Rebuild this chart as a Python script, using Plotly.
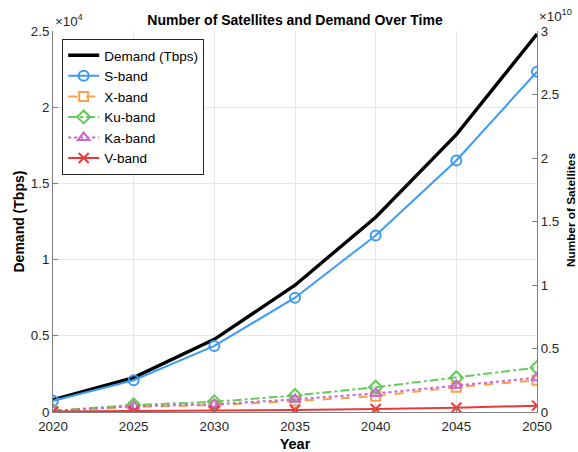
import plotly.graph_objects as go

years = [2020, 2025, 2030, 2035, 2040, 2045, 2050]

# Demand in Tbps (left axis)
demand_tbps = [800, 2260, 4770, 8320, 12780, 18200, 24800]

# Number of satellites per band (right axis)
s_band = [0.088e10, 0.25e10, 0.52e10, 0.90e10, 1.39e10, 1.98e10, 2.68e10]
x_band = [0.008e10, 0.04e10, 0.055e10, 0.086e10, 0.125e10, 0.195e10, 0.25e10]
ku_band = [0.01e10, 0.055e10, 0.08e10, 0.13e10, 0.195e10, 0.27e10, 0.35e10]
ka_band = [0.01e10, 0.045e10, 0.06e10, 0.10e10, 0.146e10, 0.21e10, 0.27e10]
v_band = [0.003e10, 0.006e10, 0.01e10, 0.016e10, 0.024e10, 0.034e10, 0.05e10]

left_tickvals = [0, 5000, 10000, 15000, 20000, 25000]
left_ticktext = ["0", "0.5", "1", "1.5", "2", "2.5"]
right_tickvals = [0, 0.5e10, 1e10, 1.5e10, 2e10, 2.5e10, 3e10]
right_ticktext = ["0", "0.5", "1", "1.5", "2", "2.5", "3"]

FONT = "Liberation Sans, Arial, Helvetica, sans-serif"
AXIS_COLOR = "#808080"
GRID_COLOR = "#e6e6e6"
TEXT_COLOR = "#262626"

fig = go.Figure()

fig.add_trace(go.Scatter(
    x=years, y=demand_tbps, name="Demand (Tbps)", mode="lines",
    line=dict(color="black", width=3.4), yaxis="y"))

bands = [
    ("S-band", s_band, "#3d9bf5", "solid", "circle-open", 10),
    ("X-band", x_band, "#f9a04a", "dash", "square-open", 9),
    ("Ku-band", ku_band, "#66c95e", "dashdot", "diamond-open", 10),
    ("Ka-band", ka_band, "#cc66cc", "dot", "triangle-up-open", 10),
    ("V-band", v_band, "#e83a3a", "solid", "x-thin-open", 10),
]
for name, vals, color, dash, symbol, size in bands:
    fig.add_trace(go.Scatter(
        x=years, y=vals, name=name, mode="lines+markers", yaxis="y2",
        line=dict(color=color, width=2, dash=dash),
        marker=dict(symbol=symbol, size=size, color=color,
                    line=dict(color=color, width=2))))

fig.update_layout(
    width=578, height=452,
    margin=dict(l=53, r=41, t=31, b=40, autoexpand=False),
    paper_bgcolor="white", plot_bgcolor="white",
    font=dict(family=FONT, size=13, color=TEXT_COLOR),
    title=dict(text="<b>Number of Satellites and Demand Over Time</b>",
               x=0.5104, xanchor="center", y=0.956, yanchor="middle",
               font=dict(size=14, color="black")),
    xaxis=dict(
        range=[2020, 2050], tickvals=years, ticks="inside", ticklen=5,
        tickcolor=AXIS_COLOR, showline=True, linecolor=AXIS_COLOR,
        showgrid=True, gridcolor=GRID_COLOR, zeroline=False,
        ticklabelstandoff=2, automargin=False,
        title=dict(text="<b>Year</b>",
                   font=dict(size=14.5, color="black")),
        tickfont=dict(size=13.3, color=TEXT_COLOR)),
    yaxis=dict(
        range=[0, 25000], tickvals=left_tickvals, ticktext=left_ticktext,
        ticks="inside", ticklen=5, tickcolor=AXIS_COLOR,
        showline=True, linecolor=AXIS_COLOR, showgrid=True,
        gridcolor=GRID_COLOR, zeroline=False, automargin=False,
        tickfont=dict(size=13.3, color=TEXT_COLOR)),
    yaxis2=dict(
        range=[0, 3e10], tickvals=right_tickvals, ticktext=right_ticktext,
        overlaying="y", side="right", ticks="inside", ticklen=5,
        tickcolor=AXIS_COLOR, showline=True, linecolor=AXIS_COLOR,
        showgrid=False, zeroline=False, automargin=False,
        tickfont=dict(size=13.3, color=TEXT_COLOR)),
    legend=dict(
        x=0.019, y=0.979, xanchor="left", yanchor="top",
        bgcolor="white", bordercolor=TEXT_COLOR, borderwidth=1,
        font=dict(size=13.5, color="black"), tracegroupgap=0,
        itemwidth=31),
    showlegend=True,
)

# Vertical axis titles
fig.add_annotation(text="<b>Demand (Tbps)</b>", xref="paper", yref="paper",
                   x=0, y=0.5, xanchor="center", yanchor="middle",
                   xshift=-35, textangle=-90, showarrow=False,
                   font=dict(size=14, color="black"))
fig.add_annotation(text="<b>Number of Satellites</b>", xref="paper",
                   yref="paper", x=1, y=0.53, xanchor="center",
                   yanchor="middle", xshift=34, textangle=-90,
                   showarrow=False, font=dict(size=11.8, color="black"))

# Exponent multipliers for both y axes
fig.add_annotation(text="×10<sup>4</sup>", xref="paper", yref="paper",
                   x=0, y=1.0, xanchor="left", yanchor="bottom", yshift=0,
                   showarrow=False, font=dict(size=13.3, color=TEXT_COLOR))
fig.add_annotation(text="×10<sup>10</sup>", xref="paper", yref="paper",
                   x=1.0, y=1.0, xanchor="left", yanchor="bottom", yshift=5,
                   showarrow=False, font=dict(size=13.3, color=TEXT_COLOR))

fig.write_html("out.html")
